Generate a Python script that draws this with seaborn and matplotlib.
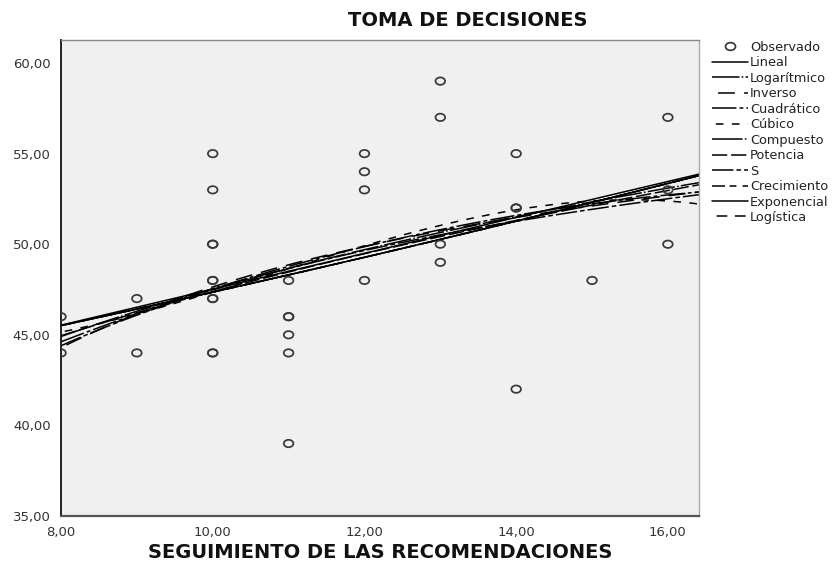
import numpy as np
import pandas as pd
import matplotlib
matplotlib.use("Agg")
import matplotlib.pyplot as plt
from matplotlib.path import Path
from matplotlib.markers import MarkerStyle
from matplotlib.transforms import Affine2D
from matplotlib.lines import Line2D
import seaborn as sns

# Observed scores
seguimiento = [8, 8, 9, 9,
               10, 10, 10, 10, 10, 10, 10, 10, 10, 10,
               11, 11, 11, 11, 11, 11,
               12, 12, 12, 12,
               13, 13, 13, 13,
               14, 14, 14, 14,
               15,
               16, 16, 16]
toma_decisiones = [46, 44, 47, 44,
                   55, 53, 50, 50, 48, 48, 47, 47, 44, 44,
                   48, 46, 46, 45, 44, 39,
                   55, 54, 53, 48,
                   59, 57, 50, 49,
                   55, 52, 52, 42,
                   48,
                   57, 53, 50]

x_ticks = [8, 10, 12, 14, 16]
y_ticks = [35, 40, 45, 50, 55, 60]
x_limits = (8, 16.41)
y_limits = (35, 61.27)

modelos = ["Lineal", "Logarítmico", "Inverso", "Cuadrático", "Cúbico",
           "Compuesto", "Potencia", "S", "Crecimiento", "Exponencial",
           "Logística"]

estilos = {
    "Lineal": "-",
    "Logarítmico": (0, (18, 1.5, 1, 1.5)),
    "Inverso": (13, (11, 6)),
    "Cuadrático": (0, (16, 2, 2.5, 2)),
    "Cúbico": (8, (5, 5.5)),
    "Compuesto": (0, (20, 1.5, 1, 1.5)),
    "Potencia": (0, (10, 2.5)),
    "S": (0, (14, 2, 3, 2)),
    "Crecimiento": (0, (8.5, 3, 4.5, 4)),
    "Exponencial": "-",
    "Logística": (9, (7, 5)),
}

x = np.asarray(seguimiento, float)
y = np.asarray(toma_decisiones, float)


def ajustar(nombre, xs):
    if nombre == "Lineal":
        c = np.polyfit(x, y, 1)
        return np.polyval(c, xs)
    if nombre == "Logarítmico":
        c = np.polyfit(np.log(x), y, 1)
        return np.polyval(c, np.log(xs))
    if nombre == "Inverso":
        c = np.polyfit(1 / x, y, 1)
        return np.polyval(c, 1 / xs)
    if nombre == "Cuadrático":
        c = np.polyfit(x, y, 2)
        return np.polyval(c, xs)
    if nombre == "Cúbico":
        c = np.polyfit(x, y, 3)
        return np.polyval(c, xs)
    if nombre in ("Compuesto", "Crecimiento", "Exponencial", "Logística"):
        c = np.polyfit(x, np.log(y), 1)
        return np.exp(np.polyval(c, xs))
    if nombre == "Potencia":
        c = np.polyfit(np.log(x), np.log(y), 1)
        return np.exp(np.polyval(c, np.log(xs)))
    if nombre == "S":
        c = np.polyfit(1 / x, np.log(y), 1)
        return np.exp(np.polyval(c, 1 / xs))


grid = np.linspace(x_limits[0], x_limits[1], 300)
curvas = pd.concat(
    [pd.DataFrame({"x": grid, "y": ajustar(m, grid), "modelo": m}) for m in modelos],
    ignore_index=True,
)
obs = pd.DataFrame({"x": x, "y": y})

sns.set_style("white")
plt.rcParams["font.family"] = ["DejaVu Sans"]

fig = plt.figure(figsize=(8.36, 5.69), dpi=100)
ax = fig.add_axes([61 / 836, 1 - 516 / 569, (699 - 61) / 836, (516 - 40) / 569])
ax.set_facecolor("#f0f0f0")

# Slightly wide open ellipse as the observation marker
elipse = Path.unit_circle().transformed(Affine2D().scale(1.3, 1.0))
marcador = MarkerStyle(elipse)

sns.scatterplot(data=obs, x="x", y="y", ax=ax, marker=marcador, s=48,
                facecolor="none", edgecolor="#383838", linewidth=1.25,
                zorder=3, legend=False)

for m in modelos:
    sub = curvas[curvas["modelo"] == m]
    sns.lineplot(data=sub, x="x", y="y", ax=ax, color="black",
                 linestyle=estilos[m], linewidth=1.1, legend=False, zorder=2)

ax.set_xlim(*x_limits)
ax.set_ylim(*y_limits)
ax.set_xticks(x_ticks)
ax.set_yticks(y_ticks)
ax.set_xticklabels([f"{v:.2f}".replace(".", ",") for v in x_ticks])
ax.set_yticklabels([f"{v:.2f}".replace(".", ",") for v in y_ticks])
ax.tick_params(axis="both", direction="out", length=7, width=1.2,
               color="#222222", labelsize=9.5, labelcolor="#333333", pad=0.5)
ax.tick_params(axis="x", length=6, pad=1.5)
ax.set_xlabel("")
ax.set_ylabel("")

for side, col, lw in [("left", "#111111", 1.3), ("bottom", "#555555", 1.6),
                      ("top", "#888888", 1.0), ("right", "#aaaaaa", 1.0)]:
    ax.spines[side].set_visible(True)
    ax.spines[side].set_color(col)
    ax.spines[side].set_linewidth(lw)

fig.text(468 / 836, 1 - 21 / 569, "TOMA DE DECISIONES", ha="center",
         va="center", fontsize=14, fontweight="bold", color="#111111")
fig.text(380 / 836, 1 - 553 / 569, "SEGUIMIENTO DE LAS RECOMENDACIONES",
         ha="center", va="center", fontsize=14, fontweight="bold",
         color="#111111")

handles = [Line2D([], [], linestyle="none", marker=marcador, markersize=7.2,
                  markerfacecolor="none", markeredgecolor="#383838",
                  markeredgewidth=1.25)]
handles += [Line2D([], [], color="black", linestyle=estilos[m], linewidth=1.1)
            for m in modelos]
fig.legend(handles, ["Observado"] + modelos, loc="upper left",
           bbox_to_anchor=(712 / 836, 1 - 41 / 569), frameon=False,
           fontsize=9.3, handlelength=2.8, handletextpad=0.15,
           labelspacing=0.19, borderpad=0, borderaxespad=0,
           labelcolor="#222222")

fig.savefig("out.png", dpi=100, facecolor="white")
